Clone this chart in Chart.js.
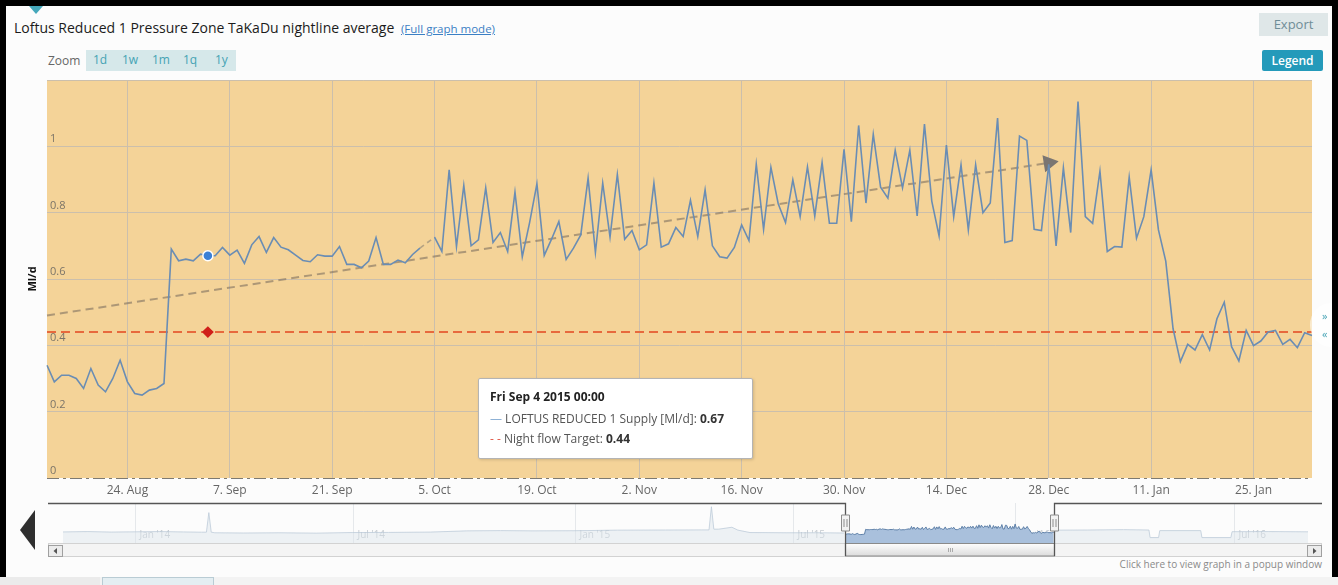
<!DOCTYPE html>
<html>
<head>
<meta charset="utf-8">
<title>Loftus Reduced 1 Pressure Zone TaKaDu nightline average</title>
<script src="https://cdn.jsdelivr.net/npm/chart.js@4.4.1/dist/chart.umd.min.js"></script>
<style>
	body { margin: 0; width: 1338px; height: 585px; overflow: hidden; background: #fcfcfc; position: relative; font-family: 'Open Sans', sans-serif; }
	.abs { position: absolute; }
	#moldura { left: 0; top: 0; width: 1338px; height: 577px; box-sizing: border-box; border: 6px solid #000; border-bottom: none; z-index: 10; pointer-events: none; }
	#setaTopo { left: 29px; top: 6px; width: 0; height: 0; border-left: 7px solid transparent; border-right: 7px solid transparent; border-top: 8px solid #45a8bb; }
	#titulo { left: 14px; top: 18px; font-size: 14px; line-height: 20px; color: #1b1b1b; white-space: nowrap; }
	#titulo a { font-size: 11.5px; color: #3b7fc4; text-decoration: underline; margin-left: 3px; }
	#export { left: 1259px; top: 13px; width: 69px; height: 23px; background: #dfe7e8; color: #6f8d97; font-size: 13px; line-height: 23px; text-align: center; }
	#zoomLbl { left: 48px; top: 53px; font-size: 12px; line-height: 16px; color: #666; }
	#zoomBtns { left: 86px; top: 50px; width: 150px; height: 21px; background: #d6e8ea; }
	#zoomBtns span { position: absolute; top: 2px; font-size: 12px; line-height: 16px; color: #45a3b4; }
	#legendBtn { left: 1262px; top: 50px; width: 61px; height: 21px; background: #249aba; color: #fff; font-size: 12px; font-weight: 600; line-height: 21px; text-align: center; border-radius: 2px; }
	#graficoNightline { left: 6px; top: 70px; }
	#dica { left: 478px; top: 378px; width: 275px; height: 81px; box-sizing: border-box; background: #fff; border: 1px solid #b4b4b4; border-radius: 2px; box-shadow: 1px 1px 3px rgba(0,0,0,0.15); padding: 8px 11px; font-size: 12px; line-height: 20px; color: #555; white-space: nowrap; }
	#dica .tit { font-weight: 700; color: #222; margin-bottom: 2px; }
	#dica b { color: #333; }
	#dica .mk1 { color: #86acd2; }
	#dica .mk2 { color: #e05545; }
	#bolha { left: 1310px; top: 303px; width: 40px; height: 44px; border-radius: 50%; background: rgba(255,255,255,0.55); color: #45a3b4; font-size: 11px; line-height: 18px; padding-left: 12px; box-sizing: border-box; padding-top: 4px; }
	#setaNav { left: 20px; top: 510px; width: 0; height: 0; border-top: 20px solid transparent; border-bottom: 20px solid transparent; border-right: 15px solid #2f2f2f; }
	#graficoNavegador { left: 48px; top: 500px; }
	#popup { left: 1080px; top: 557px; width: 242px; text-align: right; font-size: 10px; line-height: 14px; color: #8a8a8a; }
	#rodape { left: 0; top: 577px; width: 1338px; height: 8px; background: #f3f3f3; }
	#aba1 { left: 0; top: 577px; width: 100px; height: 8px; background: #ebebeb; }
	#aba2 { left: 102px; top: 577px; width: 112px; height: 8px; box-sizing: border-box; border: 1px solid #b9ccd4; border-bottom: none; background: #e4eef2; }
</style>
</head>
<body>
<div id="titulo" class="abs">Loftus Reduced 1 Pressure Zone TaKaDu nightline average <a>(Full graph mode)</a></div>
<div id="setaTopo" class="abs"></div>
<div id="export" class="abs">Export</div>
<div id="zoomLbl" class="abs">Zoom</div>
<div id="zoomBtns" class="abs"><span style="left:7px">1d</span><span style="left:36px">1w</span><span style="left:66px">1m</span><span style="left:97px">1q</span><span style="left:129px">1y</span></div>
<div id="legendBtn" class="abs">Legend</div>
<canvas id="graficoNightline" class="abs" width="1316" height="432"></canvas>
<div id="dica" class="abs">
	<div class="tit"></div>
	<div><span class="mk1">—</span> LOFTUS REDUCED 1 Supply [Ml/d]: <b class="v1"></b></div>
	<div><span class="mk2">- -</span> Night flow Target: <b class="v2"></b></div>
</div>
<div id="bolha" class="abs">»<br>«</div>
<div id="setaNav" class="abs"></div>
<canvas id="graficoNavegador" class="abs" width="1274" height="57"></canvas>
<div id="popup" class="abs">Click here to view graph in a popup window</div>
<div id="rodape" class="abs"></div>
<div id="aba1" class="abs"></div>
<div id="aba2" class="abs"></div>
<div id="moldura" class="abs"></div>

<script>
var startDate = '2015-08-13';

var supplyValues = [
	0.34, 0.29, 0.31, 0.31, 0.30, 0.27, 0.33, 0.28, 0.26, 0.30, 0.355, 0.29, 0.255, 0.25, 0.265, 0.27, 0.285,
	0.69, 0.655, 0.66, 0.655, 0.675, 0.67, 0.67, 0.695, 0.672, 0.687, 0.647, 0.703, 0.728, 0.68, 0.725, 0.696,
	0.688, 0.672, 0.656, 0.652, 0.673, 0.669, 0.669, 0.698, 0.644, 0.644, 0.634, 0.654, 0.725, 0.644, 0.644, 0.657,
	0.649, 0.674, 0.693, null, 0.726, 0.683, 0.929, 0.698, 0.882, 0.70, 0.718, 0.875, 0.71, 0.74, 0.683, 0.862,
	0.667, 0.77, 0.887, 0.671, 0.72, 0.773, 0.659, 0.693, 0.733, 0.904, 0.68, 0.889, 0.726, 0.915, 0.72,
	0.746, 0.688, 0.703, 0.889, 0.696, 0.706, 0.755, 0.728, 0.837, 0.728, 0.869, 0.70, 0.667, 0.663, 0.695,
	0.763, 0.716, 0.946, 0.75, 0.937, 0.827, 0.77, 0.899, 0.788, 0.938, 0.79, 0.951, 0.768, 0.768, 0.991,
	0.773, 1.063, 0.829, 1.036, 0.877, 0.844, 0.988, 0.875, 0.988, 0.79, 1.067, 0.835, 0.73, 1.004, 0.788, 0.944,
	0.748, 0.944, 0.80, 0.829, 1.085, 0.71, 0.716, 1.031, 1.018, 0.75, 0.746, 0.946, 0.70, 0.935, 0.74,
	1.135, 0.788, 0.768, 0.925, 0.683, 0.698, 0.696, 0.907, 0.723, 0.788, 0.929, 0.748, 0.654, 0.45, 0.351, 0.403,
	0.386, 0.432, 0.386, 0.48, 0.53, 0.396, 0.353, 0.445, 0.399, 0.413, 0.44, 0.445, 0.403, 0.418, 0.393,
	0.438, 0.43
];

var nightTarget = 0.44;
var trendDates = ['2015-08-13', '2015-12-28'];
var trendValues = [0.49, 0.95];
var hoverDate = '2015-09-04';

var tickDates = ['2015-08-24', '2015-09-07', '2015-09-21', '2015-10-05', '2015-10-19', '2015-11-02',
	'2015-11-16', '2015-11-30', '2015-12-14', '2015-12-28', '2016-01-11', '2016-01-25'];
var tickLabels = ['24. Aug', '7. Sep', '21. Sep', '5. Oct', '19. Oct', '2. Nov',
	'16. Nov', '30. Nov', '14. Dec', '28. Dec', '11. Jan', '25. Jan'];

// navigator: days counted from 1 Jan 2014
var navOrigin = '2014-01-01';
var navDays = [-60, -40, -20, 0, 20, 40, 55, 59, 61, 63, 66, 90, 120, 150, 180, 210, 245, 275, 303, 330, 364,
	400, 440, 470, 476, 478, 480, 484, 495, 500, 510, 540, 570, 588,
	675,
	763, 790, 820, 841, 842, 849, 850, 884, 885, 909, 910, 940, 973];
var navValues = [0.47, 0.50, 0.46, 0.48, 0.50, 0.47, 0.45, 0.45, 2.08, 0.45, 0.40, 0.38, 0.40, 0.37, 0.42, 0.43, 0.46, 0.56, 0.58, 0.56, 0.57,
	0.62, 0.63, 0.64, 0.64, 2.57, 0.70, 0.70, 0.86, 0.62, 0.42, 0.40, 0.40, 0.38,
	null,
	0.62, 0.63, 0.66, 0.63, 0, 0, 0.58, 0.58, 0, 0, 0.49, 0.50, 0.48];
var navTickDays = [0, 181, 365, 546, 730, 912];
var navTickLabels = ["Jan '14", "Jul '14", "Jan '15", "Jul '15", "Jan '16", "Jul '16"];

Chart.defaults.font.family = "'Open Sans', sans-serif";
Chart.defaults.animation = false;

var Takadu = Takadu || {};

Takadu.days = function() {
	var first = Date.parse(startDate + 'T00:00:00Z');
	return supplyValues.map(function(v, i) {
		return new Date(first + i * 86400000).toISOString().slice(0, 10);
	});
};

Takadu.GraficoNightline = (function() {

	var corGrade = '#cbbfac';

	function GraficoNightline() {
		this.ctx = document.getElementById('graficoNightline').getContext('2d');
	}

	GraficoNightline.prototype.iniciar = function() {
		var dias = Takadu.days();
		var idx = dias.indexOf(hoverDate);

		var fundo = {
			id: 'fundo',
			beforeDraw: function(chart) {
				var a = chart.chartArea;
				chart.ctx.save();
				chart.ctx.fillStyle = '#f4d398';
				chart.ctx.fillRect(a.left, a.top, a.right - a.left, a.bottom - a.top);
				chart.ctx.restore();
			},
			afterDraw: function(chart) {
				// dash-dot x axis line
				var a = chart.chartArea, ctx = chart.ctx;
				ctx.save();
				ctx.strokeStyle = '#7d7a72';
				ctx.lineWidth = 1;
				ctx.setLineDash([12, 4, 3, 4]);
				ctx.beginPath();
				ctx.moveTo(a.left, a.bottom + 0.5);
				ctx.lineTo(a.right, a.bottom + 0.5);
				ctx.stroke();
				ctx.restore();
			}
		};

		this.grafico = new Chart(this.ctx, {
			type: 'line',
			data: {
				labels: dias,
				datasets: [{
					label: 'LOFTUS REDUCED 1 Supply [Ml/d]',
					data: supplyValues,
					borderColor: '#6a8db4',
					borderWidth: 1.6,
					tension: 0,
					spanGaps: true,
					pointRadius: function(c) { return c.dataIndex === idx ? 5 : 0; },
					pointBackgroundColor: '#3b80d6',
					pointBorderColor: '#fff',
					pointBorderWidth: 1.5,
					segment: {
						borderDash: function(s) { return s.p0.skip || s.p1.skip ? [5, 4] : undefined; },
						borderColor: function(s) { return s.p0.skip || s.p1.skip ? 'rgba(120,115,110,0.5)' : undefined; }
					}
				}, {
					label: 'Night flow Target',
					data: [dias[0], hoverDate, dias[dias.length - 1]].map(function(d) { return { x: d, y: nightTarget }; }),
					borderColor: '#e7693d',
					borderWidth: 2,
					borderDash: [9, 5],
					pointRadius: [0, 4.5, 0],
					pointStyle: 'rectRot',
					pointBackgroundColor: '#d0201a',
					pointBorderColor: '#d0201a'
				}, {
					label: 'Trend',
					data: trendDates.map(function(d, i) { return { x: d, y: trendValues[i] }; }),
					borderColor: 'rgba(125,112,95,0.6)',
					borderWidth: 2,
					borderDash: [8, 5],
					pointRadius: [0, 8],
					pointStyle: 'triangle',
					pointRotation: 81,
					pointBackgroundColor: '#7b7672',
					pointBorderColor: '#7b7672'
				}]
			},
			options: {
				responsive: false,
				layout: { padding: { top: 5, left: 0, right: 0, bottom: 0 } },
				plugins: { legend: { display: false }, tooltip: { enabled: false } },
				scales: {
					x: {
						afterFit: function(s) { s.height = 24; },
						border: { display: false },
						grid: {
							drawTicks: false,
							color: function(c) {
								return c.tick && tickDates.indexOf(dias[c.tick.value]) >= 0 ? corGrade : 'rgba(0,0,0,0)';
							}
						},
						ticks: {
							autoSkip: false, maxRotation: 0, minRotation: 0, padding: 5,
							color: '#666', font: { size: 12 },
							callback: function(value) {
								var i = tickDates.indexOf(dias[value]);
								return i >= 0 ? tickLabels[i] : '';
							}
						}
					},
					y: {
						min: 0, max: 1.2,
						afterFit: function(s) { s.width = 41; },
						border: { display: false },
						grid: {
							drawTicks: false,
							color: function(c) { return c.tick && c.tick.value === 0 ? 'rgba(0,0,0,0)' : corGrade; }
						},
						title: { display: true, text: 'Ml/d', color: '#111', font: { size: 11, weight: 'bold' }, padding: { top: 20, bottom: 0 } },
						ticks: {
							stepSize: 0.2, mirror: true, padding: 3, labelOffset: -7,
							color: '#7b7468', font: { size: 11 },
							callback: function(value) { return value > 1.1 ? '' : String(Math.round(value * 10) / 10); }
						}
					}
				}
			},
			plugins: [fundo]
		});

		preencherDica(dias, idx);
	};

	function preencherDica(dias, idx) {
		var semana = ['Sun', 'Mon', 'Tue', 'Wed', 'Thu', 'Fri', 'Sat'];
		var meses = ['Jan', 'Feb', 'Mar', 'Apr', 'May', 'Jun', 'Jul', 'Aug', 'Sep', 'Oct', 'Nov', 'Dec'];
		var d = new Date(dias[idx] + 'T00:00:00Z');
		document.querySelector('#dica .tit').textContent = semana[d.getUTCDay()] + ' ' + meses[d.getUTCMonth()] + ' ' +
			d.getUTCDate() + ' ' + d.getUTCFullYear() + ' 00:00';
		document.querySelector('#dica .v1').textContent = supplyValues[idx].toFixed(2);
		document.querySelector('#dica .v2').textContent = nightTarget.toFixed(2);
	}

	return GraficoNightline;

}());

Takadu.GraficoNavegador = (function() {

	function GraficoNavegador() {
		this.ctx = document.getElementById('graficoNavegador').getContext('2d');
	}

	GraficoNavegador.prototype.iniciar = function() {
		var inicio = (Date.parse(startDate) - Date.parse(navOrigin)) / 86400000;
		var fim = inicio + supplyValues.length - 1;

		var enfeites = {
			id: 'enfeites',
			beforeDatasetsDraw: function(chart) {
				var ctx = chart.ctx, a = chart.chartArea, x = chart.scales.x;
				ctx.save();
				ctx.strokeStyle = '#e5e8eb';
				ctx.lineWidth = 1;
				ctx.fillStyle = '#c3c9cf';
				ctx.font = "10px 'Open Sans', sans-serif";
				ctx.textBaseline = 'middle';
				navTickDays.forEach(function(d, i) {
					var px = Math.round(x.getPixelForValue(d)) + 0.5;
					ctx.beginPath();
					ctx.moveTo(px, a.top);
					ctx.lineTo(px, a.bottom);
					ctx.stroke();
					ctx.fillText(navTickLabels[i], px + 4, a.bottom - 8);
				});
				ctx.restore();
			},
			afterDraw: function(chart) {
				var ctx = chart.ctx, a = chart.chartArea, x = chart.scales.x;
				var w = chart.width, h = chart.height;
				var xl = Math.round(x.getPixelForValue(inicio)) + 0.5;
				var xr = Math.round(x.getPixelForValue(fim)) + 0.5;
				ctx.save();
				ctx.fillStyle = '#f4f4f4';
				ctx.fillRect(0, a.bottom, w, h - a.bottom);
				ctx.strokeStyle = '#d2d2d2';
				ctx.lineWidth = 1;
				ctx.strokeRect(0.5, a.bottom + 0.5, w - 1, h - a.bottom - 1);
				botao(ctx, 0.5, a.bottom + 2.5, 14, 11, -1);
				botao(ctx, w - 14.5, a.bottom + 2.5, 14, 11, 1);

				var g = ctx.createLinearGradient(0, a.bottom, 0, h);
				g.addColorStop(0, '#ffffff');
				g.addColorStop(1, '#d9d9d9');
				ctx.fillStyle = g;
				ctx.fillRect(xl, a.bottom, xr - xl, h - a.bottom - 1);
				ctx.strokeStyle = '#8a8a8a';
				ctx.strokeRect(xl, a.bottom + 0.5, xr - xl, h - a.bottom - 1.5);
				ctx.strokeStyle = '#aaa';
				var meio = Math.round((xl + xr) / 2);
				for (var k = -2; k <= 2; k += 2) {
					ctx.beginPath();
					ctx.moveTo(meio + k + 0.5, a.bottom + 5);
					ctx.lineTo(meio + k + 0.5, h - 5);
					ctx.stroke();
				}

				ctx.strokeStyle = '#555';
				ctx.lineWidth = 1.3;
				ctx.beginPath();
				ctx.moveTo(0, a.top + 0.5);
				ctx.lineTo(xl, a.top + 0.5);
				ctx.lineTo(xl, h - 1);
				ctx.moveTo(xr, h - 1);
				ctx.lineTo(xr, a.top + 0.5);
				ctx.lineTo(w, a.top + 0.5);
				ctx.stroke();

				alca(ctx, xl, a.top + 20);
				alca(ctx, xr, a.top + 20);
				ctx.restore();
			}
		};

		this.grafico = new Chart(this.ctx, {
			type: 'line',
			data: {
				datasets: [{
					data: supplyValues.map(function(v, i) { return { x: inicio + i, y: v }; }),
					borderColor: '#5e80a8',
					borderWidth: 1,
					backgroundColor: '#a9c0dc',
					fill: 'start',
					spanGaps: true,
					pointRadius: 0,
					tension: 0
				}, {
					data: navDays.map(function(d, i) { return { x: d, y: navValues[i] }; }),
					borderColor: 'rgba(185,200,215,0.75)',
					borderWidth: 1,
					backgroundColor: 'rgba(220,228,236,0.45)',
					fill: 'start',
					pointRadius: 0,
					tension: 0
				}]
			},
			options: {
				responsive: false,
				layout: { padding: { left: 15, right: 14, top: 3, bottom: 14 } },
				plugins: { legend: { display: false }, tooltip: { enabled: false } },
				scales: {
					x: { type: 'linear', min: -60, max: 973, display: false },
					y: { min: -0.45, max: 2.88, display: false }
				}
			},
			plugins: [enfeites]
		});
	};

	function botao(ctx, x, y, w, h, dir) {
		ctx.fillStyle = '#ececec';
		ctx.fillRect(x, y, w, h);
		ctx.strokeStyle = '#a0a0a0';
		ctx.strokeRect(x, y, w, h);
		var cx = x + w / 2, cy = y + h / 2;
		ctx.fillStyle = '#555';
		ctx.beginPath();
		ctx.moveTo(cx + dir * 2, cy);
		ctx.lineTo(cx - dir * 1.5, cy - 3);
		ctx.lineTo(cx - dir * 1.5, cy + 3);
		ctx.closePath();
		ctx.fill();
	}

	function alca(ctx, x, cy) {
		ctx.fillStyle = '#f2f2f2';
		ctx.strokeStyle = '#8c8c8c';
		ctx.lineWidth = 1;
		ctx.beginPath();
		ctx.rect(x - 4, cy - 8, 8, 16);
		ctx.fill();
		ctx.stroke();
		ctx.beginPath();
		ctx.moveTo(x - 1.5, cy - 4);
		ctx.lineTo(x - 1.5, cy + 4);
		ctx.moveTo(x + 1.5, cy - 4);
		ctx.lineTo(x + 1.5, cy + 4);
		ctx.stroke();
	}

	return GraficoNavegador;

}());

window.addEventListener('load', function() {

	var graficoNightline = new Takadu.GraficoNightline();
	graficoNightline.iniciar();

	var graficoNavegador = new Takadu.GraficoNavegador();
	graficoNavegador.iniciar();

});
</script>
</body>
</html>
